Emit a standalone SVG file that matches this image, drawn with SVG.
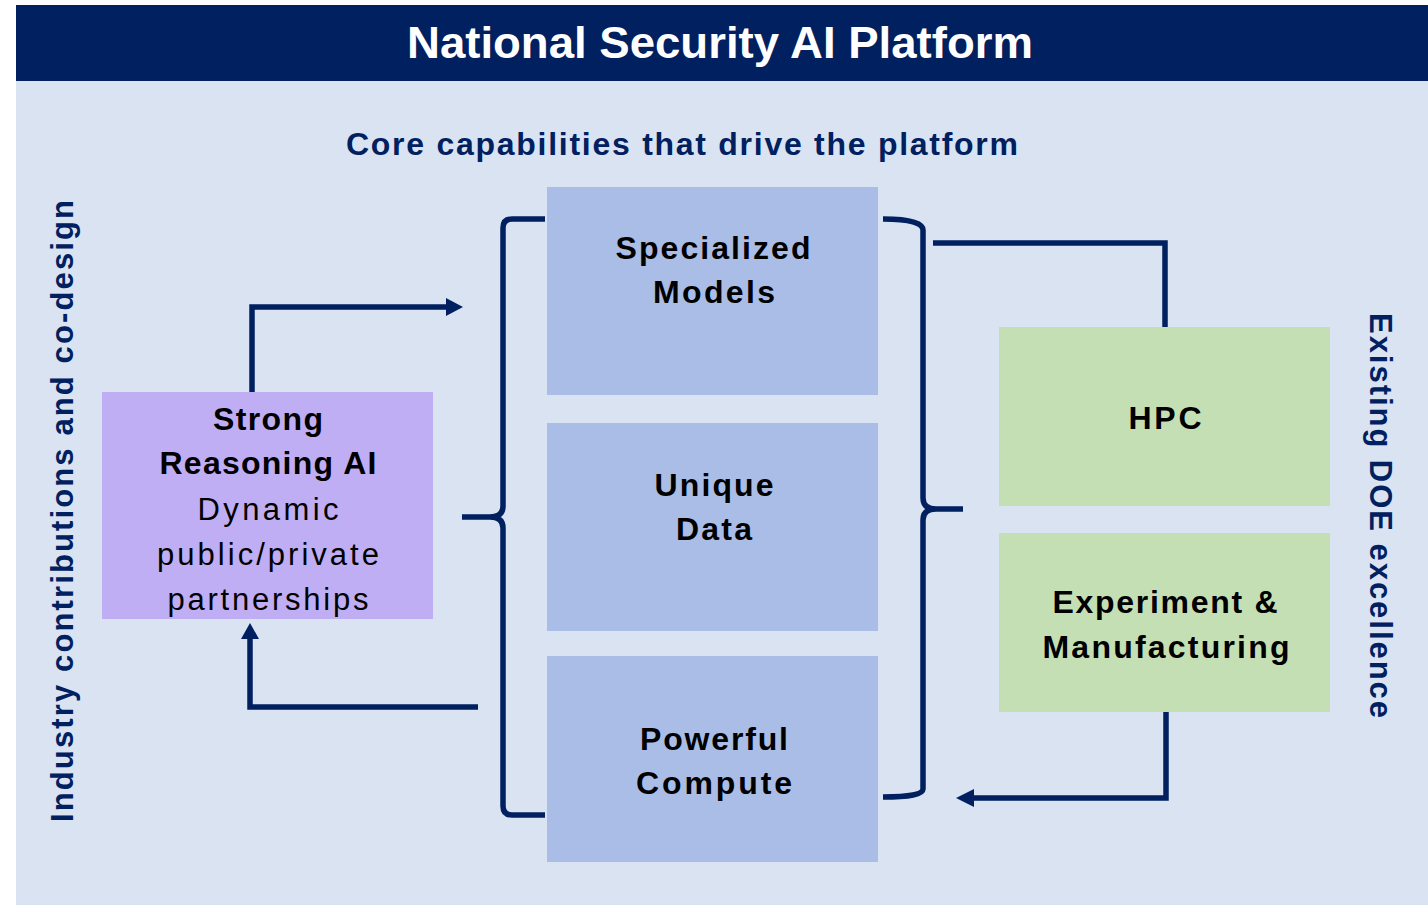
<svg xmlns="http://www.w3.org/2000/svg" width="1428" height="905" viewBox="0 0 1428 905">
<defs>
<style>
.t{font-family:"Liberation Sans",Arial,sans-serif;text-anchor:middle}
.b{font-weight:bold;font-size:32px;fill:#000}
.r{font-size:31px;fill:#000}
.ln{fill:none;stroke:#002060;stroke-width:5.5}
.ah{fill:#002060}
.blue{fill:#A9BDE6}
.green{fill:#C5DFB4}
</style>
</defs>
<rect x="0" y="0" width="1428" height="905" fill="#FFFFFF"/>
<rect x="16" y="80" width="1412" height="825" fill="#DAE3F2"/>
<g id="title">
<rect x="16" y="5" width="1412" height="76" fill="#002060"/>
<text x="720" y="58" class="t" textLength="626" lengthAdjust="spacingAndGlyphs" style="font-weight:bold;font-size:44px;fill:#fff">National Security AI Platform</text>
</g>
<g id="subtitle">
<text x="682" y="155" class="t" textLength="672" style="font-weight:bold;font-size:32px;fill:#002060">Core capabilities that drive the platform</text>
</g>
<g id="left-label">
<text transform="translate(73,511) rotate(-90)" class="t" textLength="622" style="font-weight:bold;font-size:31px;fill:#002060">Industry contributions and co-design</text>
</g>
<g id="right-label">
<text transform="translate(1370,515.5) rotate(90)" class="t" textLength="405" style="font-weight:bold;font-size:31px;fill:#002060">Existing DOE excellence</text>
</g>
<g id="connectors">
<path class="ln" d="M545,219 L512,219 Q503,219 503,228 L503,506 Q503,517 490,517 L462,517 M490,517 Q503,517 503,528 L503,806 Q503,815 512,815 L545,815"/>
<path class="ln" d="M883,219 Q923,219 923,230 L923,498 Q923,509 936,509 L963,509 M936,509 Q923,509 923,520 L923,789 Q923,797 883,797"/>
<path class="ln" d="M252,392 L252,307 L448,307"/>
<polygon class="ah" points="446,298 463,307 446,316"/>
<path class="ln" d="M478,707 L250,707 L250,637"/>
<polygon class="ah" points="241,639 250,623 259,639"/>
<path class="ln" d="M933,243 L1165,243 L1165,327"/>
<path class="ln" d="M1166,712 L1166,798 L972,798"/>
<polygon class="ah" points="974,789 956,798 974,807"/>
</g>
<g id="strong-ai">
<rect x="102" y="392" width="331" height="227" fill="#C0AEF4"/>
<text class="t b" x="268" y="430" textLength="110">Strong</text>
<text class="t b" x="268" y="474" textLength="217">Reasoning AI</text>
<text class="t r" x="268" y="520" textLength="141">Dynamic</text>
<text class="t r" x="268" y="565" textLength="222">public/private</text>
<text class="t r" x="268" y="610" textLength="201">partnerships</text>
</g>
<g id="specialized-models">
<rect class="blue" x="547" y="187" width="331" height="208"/>
<text class="t b" x="713" y="259" textLength="195">Specialized</text>
<text class="t b" x="714" y="303" textLength="122">Models</text>
</g>
<g id="unique-data">
<rect class="blue" x="547" y="423" width="331" height="208"/>
<text class="t b" x="714" y="496" textLength="119">Unique</text>
<text class="t b" x="714" y="540" textLength="76">Data</text>
</g>
<g id="powerful-compute">
<rect class="blue" x="547" y="656" width="331" height="206"/>
<text class="t b" x="714" y="750" textLength="148">Powerful</text>
<text class="t b" x="714" y="794" textLength="156">Compute</text>
</g>
<g id="hpc">
<rect class="green" x="999" y="327" width="331" height="179"/>
<text class="t b" x="1165" y="429" textLength="73">HPC</text>
</g>
<g id="experiment">
<rect class="green" x="999" y="533" width="331" height="179"/>
<text class="t b" x="1165" y="613" textLength="225">Experiment &amp;</text>
<text class="t b" x="1166" y="658" textLength="247">Manufacturing</text>
</g>
</svg>
